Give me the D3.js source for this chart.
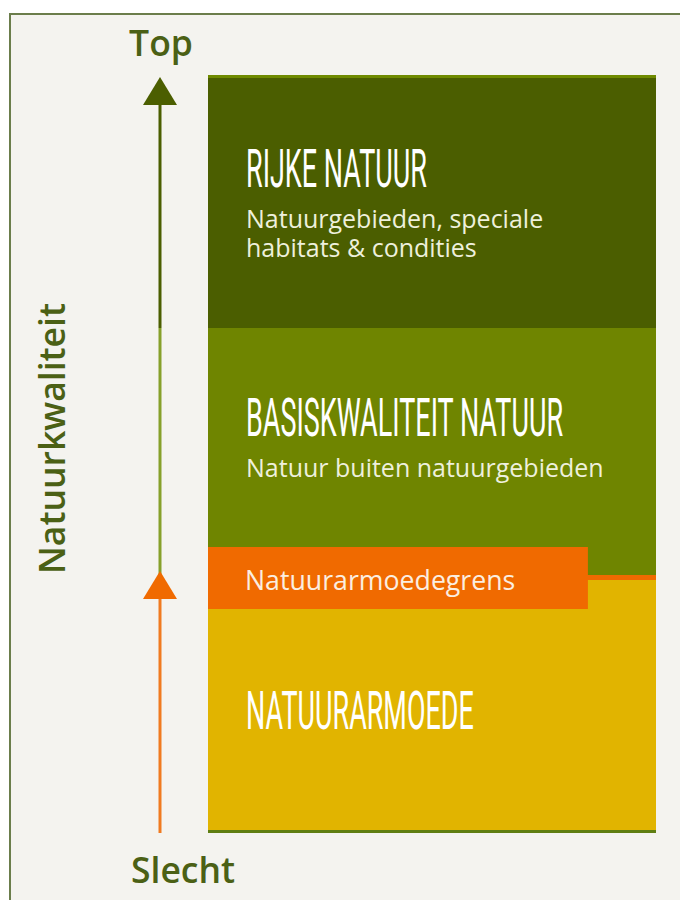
<!DOCTYPE html>
<html>
<head>
<meta charset="utf-8">
<script src="https://cdn.jsdelivr.net/npm/d3@7"></script>
<style>
  html, body { margin: 0; padding: 0; background: #ffffff; }
  svg { display: block; }
</style>
</head>
<body>
<div id="chart"></div>
<script>
// levels of nature quality, bottom to top
const levelFrom = [0, 1, 2];
const levelTo = [1, 2, 3];
const headings = ['NATUURARMOEDE', 'BASISKWALITEIT NATUUR', 'RIJKE NATUUR'];
const subtitles = [[], ['Natuur buiten natuurgebieden'], ['Natuurgebieden, speciale', 'habitats & condities']];
const levelColors = ['#e1b400', '#6f8500', '#4b5e00'];

const grensValue = 1;
const grensLabel = 'Natuurarmoedegrens';

const axisTop = 'Top';
const axisBottom = 'Slecht';
const axisTitle = 'Natuurkwaliteit';

const width = 680;
const height = 900;

const svg = d3
  .select('#chart')
  .append('svg')
  .attr('width', width)
  .attr('height', height);

// frame
svg
  .append('rect')
  .attr('x', 10)
  .attr('y', 14)
  .attr('width', width)
  .attr('height', height)
  .attr('fill', '#f4f3ef')
  .attr('stroke', '#6b7d4b')
  .attr('stroke-width', 2);

const y = d3.scaleLinear().domain([0, 3]).range([830, 77]);
const x = d3.scaleLinear().domain([0, 1]).range([208, 656]);
const arrowX = 160;

const idx = d3.range(levelFrom.length);

// bands
svg
  .selectAll('.band')
  .data(idx)
  .join('rect')
  .attr('class', 'band')
  .attr('x', x(0))
  .attr('width', x(1) - x(0))
  .attr('y', (i) => y(levelTo[i]))
  .attr('height', (i) => y(levelFrom[i]) - y(levelTo[i]))
  .attr('fill', (i) => levelColors[i]);

// top highlight and bottom line
svg
  .append('rect')
  .attr('x', x(0))
  .attr('width', x(1) - x(0))
  .attr('y', y(3) - 2)
  .attr('height', 3)
  .attr('fill', '#6f8a00');
svg
  .append('rect')
  .attr('x', x(0))
  .attr('width', x(1) - x(0))
  .attr('y', y(0))
  .attr('height', 3)
  .attr('fill', '#5f7e12');

// grens: thin line across, plus label box
svg
  .append('rect')
  .attr('x', x(0))
  .attr('width', x(1) - x(0))
  .attr('y', y(grensValue) - 4)
  .attr('height', 5)
  .attr('fill', '#f06a00');
svg
  .append('rect')
  .attr('x', x(0))
  .attr('width', x(0.848) - x(0))
  .attr('y', y(grensValue) - 32)
  .attr('height', 62)
  .attr('fill', '#f06a00');
svg
  .append('text')
  .attr('x', x(0) + 37)
  .attr('y', y(grensValue) + 11)
  .attr('font-family', 'Open Sans')
  .attr('font-size', 26.7)
  .attr('fill', '#fbeee0')
  .text(grensLabel);

// headings (condensed)
const headOffset = [150, 108, 110];
const headText = svg
  .selectAll('.heading')
  .data(idx)
  .join('text')
  .attr('class', 'heading')
  .attr('font-family', 'Roboto')
  .attr('font-weight', 400)
  .attr('font-size', 53)
  .attr('fill', '#ffffff')
  .text((i) => headings[i]);
const refLen = headText.filter((i) => i === 2).node().getComputedTextLength();
const sx = 181 / refLen;
headText.attr('transform', (i) => `translate(${x(0) + 38}, ${y(levelTo[i]) + headOffset[i]}) scale(${sx}, 1)`);

// subtitles
idx.forEach((i) => {
  svg
    .selectAll(`.sub${i}`)
    .data(subtitles[i])
    .join('text')
    .attr('class', `sub${i}`)
    .attr('x', x(0) + 38)
    .attr('y', (d, j) => y(levelTo[i]) + headOffset[i] + 41 + j * 29)
    .attr('font-family', 'Open Sans')
    .attr('font-size', 25)
    .attr('fill', '#eef0dc')
    .text((d) => d);
});

// arrow line, coloured by the band it passes
const segColors = ['#f07a20', '#86a02a', '#4b5e00'];
svg
  .selectAll('.seg')
  .data(idx)
  .join('line')
  .attr('class', 'seg')
  .attr('x1', arrowX)
  .attr('x2', arrowX)
  .attr('y1', (i) => (i === 0 ? y(0) + 3 : y(levelFrom[i])))
  .attr('y2', (i) => (i === 2 ? y(3) + 20 : y(levelTo[i])))
  .attr('stroke', (i) => segColors[i])
  .attr('stroke-width', 3);

// arrow heads
function head(tipY, color) {
  svg
    .append('path')
    .attr('d', `M${arrowX},${tipY} L${arrowX + 17},${tipY + 28} L${arrowX - 17},${tipY + 28} Z`)
    .attr('fill', color);
}
head(y(3), '#4b5e00');
head(y(grensValue) - 8, '#f06a00');

// axis texts
const axisFont = { family: 'Open Sans', weight: 600, size: 35.5, color: '#4b6015' };
function axisText(sel, txt) {
  return sel
    .attr('font-family', axisFont.family)
    .attr('font-weight', axisFont.weight)
    .attr('font-size', axisFont.size)
    .attr('fill', axisFont.color)
    .text(txt);
}
axisText(svg.append('text').attr('x', arrowX + 1).attr('y', 56).attr('text-anchor', 'middle'), axisTop);
axisText(svg.append('text').attr('x', arrowX - 29).attr('y', 883), axisBottom);
axisText(
  svg
    .append('text')
    .attr('transform', `translate(65, ${y(1.5) - 15}) rotate(-90)`)
    .attr('text-anchor', 'middle'),
  axisTitle,
);
</script>
</body>
</html>
